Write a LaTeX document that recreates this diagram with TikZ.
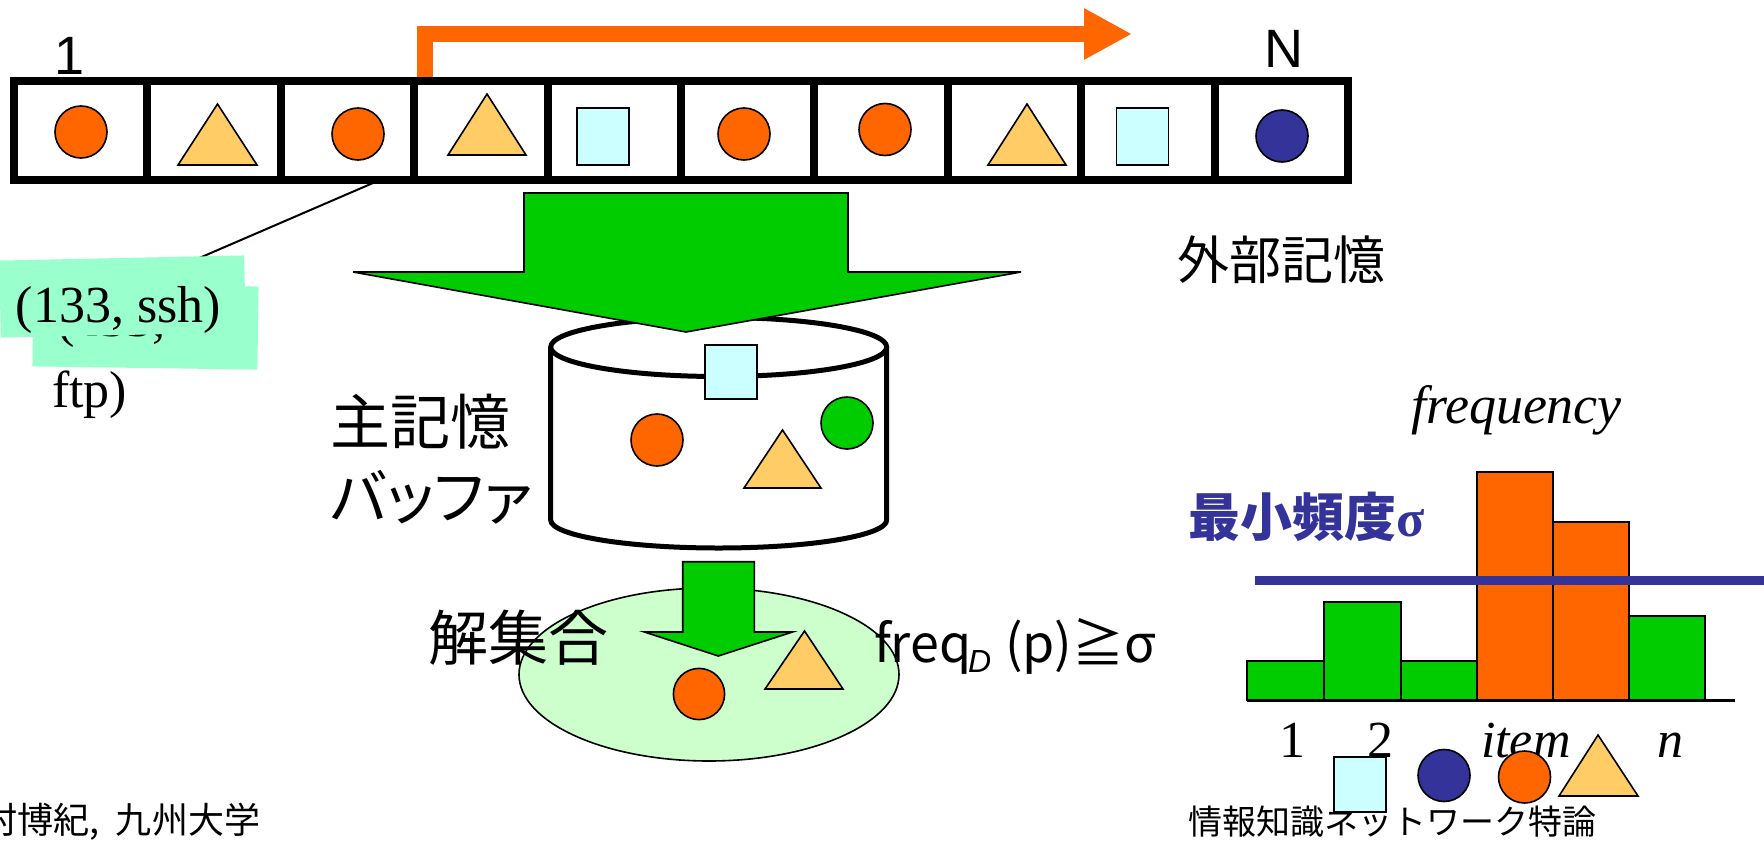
\documentclass[tikz,border=0pt]{standalone}
\usepackage{fontspec}
\setmainfont{Liberation Serif}
\newfontfamily\arsf{Liberation Sans}
\newfontfamily\jpf{Noto Sans CJK JP}
\newfontfamily\jppf{Noto Sans CJK JP}[RawFeature=+palt]
\usetikzlibrary{arrows.meta}
\definecolor{grn}{HTML}{00CC00}
\definecolor{orng}{HTML}{FF6600}
\definecolor{yel}{HTML}{FFCC66}
\definecolor{lcyan}{HTML}{CCFFFF}
\definecolor{navy}{HTML}{333399}
\definecolor{lgrn}{HTML}{CCFFCC}
\definecolor{mint}{HTML}{99FFCC}
\newcommand{\setfs}[1]{\fontsize{#1pt}{#1pt}\selectfont}
\begin{document}
\begin{tikzpicture}[x=0.5pt,y=-0.5pt,
  cell/.style={draw=black,line width=4pt,minimum width=66.7pt,minimum height=49.5pt,inner sep=0pt},
  shp/.style={draw=black,line width=0.8pt},
  bar/.style={draw=black,line width=1pt},
  txt/.style={inner sep=0pt,outer sep=0pt},
  mintbox/.style={fill=mint,inner sep=0pt,outer sep=0pt},
  bigarrow/.style={draw=black,line width=0.8pt,fill=grn}]
\useasboundingbox (0,0) rectangle (1764,840);

% orange scan arrow
\coordinate (oaS) at (424.5,79);
\coordinate (oaE) at (1132,34);
\draw[draw=orng,line width=8pt,-{Triangle[length=24pt,width=24pt]}] (oaS) |- (oaE);

% cells
\foreach \i in {1,...,10}{\node[cell] (c\i) at ({14+133.4*(\i-0.5)},130.5) {};}

% cell contents
\draw[shp,fill=orng] (81,132) circle[radius=13pt];
\draw[shp,fill=yel] (178,165) -- (217.5,104) -- (257,165) -- cycle;
\draw[shp,fill=orng] (358,134) circle[radius=13pt];
\draw[shp,fill=yel] (448,155) -- (487,94) -- (526,155) -- cycle;
\draw[shp,fill=lcyan] (577,108) rectangle (629,165);
\draw[shp,fill=orng] (744,134) circle[radius=13pt];
\draw[shp,fill=orng] (885,129.5) circle[radius=13pt];
\draw[shp,fill=yel] (988,165) -- (1027,104) -- (1066,165) -- cycle;
\draw[shp,fill=lcyan] (1116.5,108) rectangle (1168.5,165);
\draw[shp,fill=navy] (1282,136) circle[radius=13pt];

\node[txt,anchor=base,font=\arsf\setfs{27}] (lab1) at (70,75) {1};
\node[txt,anchor=base,font=\arsf\setfs{27}] (labN) at (1284,68) {N};

% leader + record label
\coordinate (ldA) at (373,183);
\coordinate (ldB) at (190,262);
\draw[line width=1pt] (ldA) -- (ldB);
\node[mintbox,minimum width=112.5pt,minimum height=41.5pt,rotate=-0.8] (box2) at (145.5,326.5) {};
\node[txt,anchor=base west,font=\setfs{26}] (hid) at (57,336) {(133,};
\node[txt,anchor=base west,font=\setfs{26}] (ftp) at (52,407) {ftp)};
\node[mintbox,minimum width=122.5pt,minimum height=38.5pt,rotate=1.2] (box1) at (122.5,296.5) {};
\node[txt,anchor=base west,font=\setfs{26}] (ssh) at (16,322) {(133, ssh)};

% main memory cylinder
\draw[line width=2.5pt,fill=white] (550.7,347) -- (550.7,520) arc[start angle=180,end angle=360,x radius=84pt,y radius=14pt] -- (886.7,347);
\draw[line width=2.5pt,fill=white] (718.7,347) ellipse[x radius=84pt,y radius=14.75pt];

% big green arrow
\draw[bigarrow] (524,193) -- (848,193) -- (848,272) -- (1021,272) -- (686,332) -- (353,272) -- (524,272) -- cycle;

\draw[shp,fill=lcyan] (705,345) rectangle (757,399);
\draw[shp,fill=orng] (657,440) circle[radius=13pt];
\draw[shp,fill=grn] (847,423) circle[radius=13pt];
\draw[shp,fill=yel] (744,488) -- (782.5,430) -- (821,488) -- cycle;

\node[txt,anchor=west,font=\jpf\setfs{30}] (mm1) at (330,421.5) {主記憶};
\node[txt,anchor=west,font=\jppf\setfs{30}] (mm2) at (330,497.5) {バッファ};
\node[txt,anchor=center,font=\jpf\setfs{26}] (ext) at (1281,260) {外部記憶};

% solution set
\draw[line width=0.8pt,fill=lgrn] (709,674.5) ellipse[x radius=95pt,y radius=43.25pt];
\node[txt,anchor=center,font=\jpf\setfs{30}] (sol) at (518,637.5) {解集合};
\draw[bigarrow] (682.7,561.7) -- (754.3,561.7) -- (754.3,632) -- (792.5,632) -- (718.3,656) -- (644.4,632) -- (682.7,632) -- cycle;
\draw[shp,fill=orng] (699,694) circle[radius=12.8pt];
\draw[shp,fill=yel] (765,689) -- (804.5,631) -- (843,689) -- cycle;

\node[txt,anchor=base west,font=\jpf\setfs{26}] (fq) at (874,662) {freq};
\node[txt,anchor=base west,font=\arsf\itshape\setfs{16}] (fqD) at (968,672) {D};
\node[txt,anchor=base west,font=\jpf\setfs{26}] (fqp) at (1005,662) {(p)≧σ};

% histogram
\draw[bar,fill=grn] (1247,700) rectangle (1324,661);
\draw[bar,fill=grn] (1324,700) rectangle (1401,602);
\draw[bar,fill=grn] (1401,700) rectangle (1477,661);
\draw[bar,fill=orng] (1477,700) rectangle (1553,472);
\draw[bar,fill=orng] (1553,700) rectangle (1629,522);
\draw[bar,fill=grn] (1629,700) rectangle (1705,616);
\coordinate (axL) at (1247,700);
\coordinate (axR) at (1735,700);
\draw[line width=1.5pt] (axL) -- (axR);
\coordinate (sgL) at (1255,580.5);
\coordinate (sgR) at (1764,580.5);
\draw[navy,line width=4.5pt] (sgL) -- (sgR);

\node[txt,anchor=west,text=navy,font=\jpf\bfseries\setfs{26}] (minf) at (1188,517) {最小頻度{\rmfamily\bfseries σ}};
\node[txt,anchor=base west,font=\itshape\setfs{27}] (freqlab) at (1411,423) {frequency};
\node[txt,anchor=base,font=\setfs{26}] (x1) at (1292,757) {1};
\node[txt,anchor=base,font=\setfs{26}] (x2) at (1380,757) {2};
\node[txt,anchor=base west,font=\itshape\setfs{26}] (xit) at (1481,757) {item};
\node[txt,anchor=base,font=\itshape\setfs{26}] (xn) at (1670,757) {n};

% footers
\node[txt,anchor=west,font=\jpf\setfs{17}] (ft2) at (1188,822) {情報知識ネットワーク特論};
\node[txt,anchor=east,font=\jpf\setfs{18}] (ft1) at (260,822) {有村博紀,\ \ 九州大学};

% legend shapes
\draw[shp,fill=lcyan] (1334,757) rectangle (1386,812);
\draw[shp,fill=navy] (1444,775.5) circle[radius=13pt];
\draw[shp,fill=orng] (1524.5,777) circle[radius=13pt];
\draw[shp,fill=yel] (1559,796) -- (1598,735) -- (1638,796) -- cycle;
\end{tikzpicture}
\end{document}
